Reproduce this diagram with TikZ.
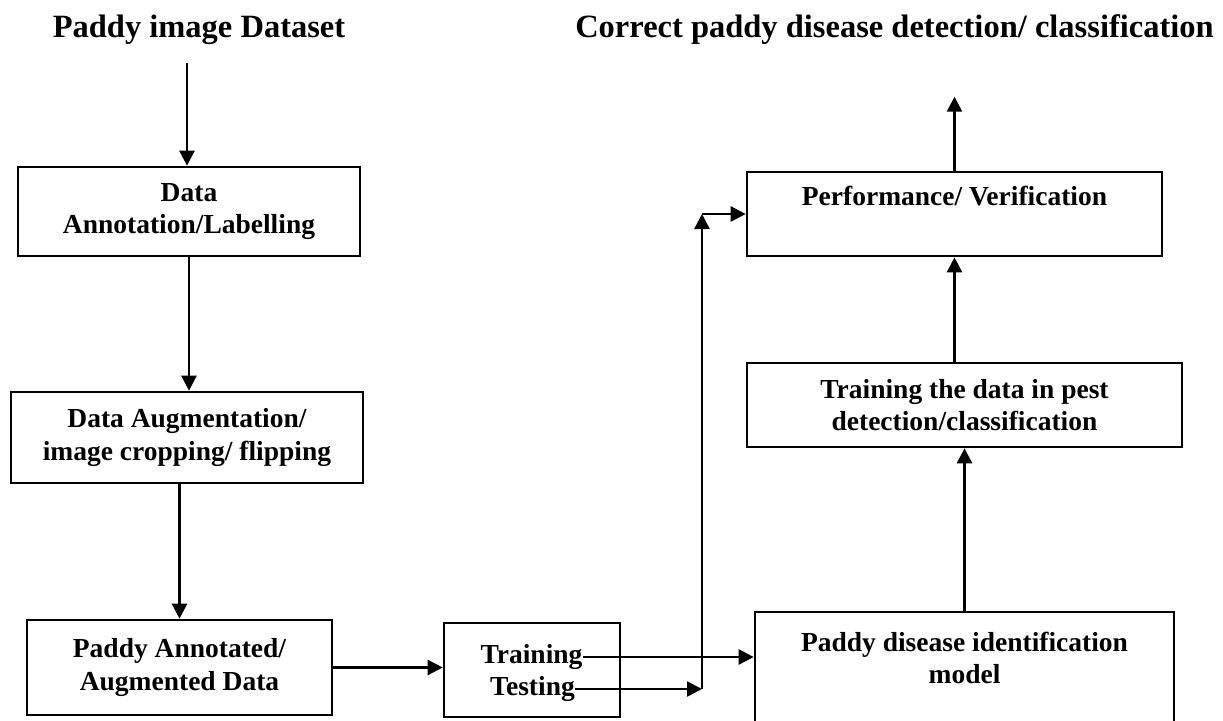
\documentclass[tikz,border=0pt]{standalone}
\usepackage{fontspec}
\setmainfont{Liberation Serif}
\usetikzlibrary{arrows.meta}
\begin{document}
\begin{tikzpicture}[x=1pt,y=-1pt,
  box/.style={draw, line width=2.6pt, inner sep=0pt, align=center, font=\fontsize{27.5}{32.5}\selectfont\bfseries},
  lbl/.style={inner sep=0pt, align=center, font=\fontsize{27.5}{32.5}\selectfont\bfseries},
  ttl/.style={inner sep=0pt, font=\fontsize{32.5}{38}\selectfont\bfseries, anchor=base},
  arr/.style={line width=2.5pt, -{Triangle[length=15pt,width=15pt]}}]
\useasboundingbox (0,0) rectangle (1223,720);
\clip (0,0) rectangle (1223,720);
\fill[white] (0,0) rectangle (1223,720);

% titles
\node[ttl] (t1) at (199,37) {Paddy image Dataset};
\node[ttl] (t2) at (894.5,37) {Correct paddy disease detection/ classification};

% left column
\node[box, minimum width=342pt, minimum height=89pt] (b1) at (189,211.5) {Data\\Annotation/Labelling};
\node[box, minimum width=352pt, minimum height=91pt] (b2) at (187,437.5) {Data Augmentation/\\image cropping/ flipping};
\node[box, minimum width=305pt, minimum height=95pt] (b3) at (179.5,667.5) {Paddy Annotated/\\Augmented Data};

% training / testing
\node[box, minimum width=176pt, minimum height=94pt] (tr) at (532,670) {};
\node[lbl] (trn) at (531.5,657) {Training};
\node[lbl] (tst) at (532.5,689) {Testing};

% right column
\node[box, minimum width=415pt, minimum height=84pt] (perf) at (954.5,214) {};
\node[lbl, anchor=base] (perft) at (954.5,205) {Performance/ Verification};
\node[box, minimum width=435pt, minimum height=84pt] (trd) at (964.5,405) {Training the data in pest\\detection/classification};
\node[box, minimum width=419pt, minimum height=123pt] (pdm) at (964.5,673.5) {};
\node[lbl] (pdmt) at (964.5,658) {Paddy disease identification\\model};

% helper coordinates
\coordinate (a0) at ([xshift=-12pt,yshift=-19pt]t1.south);
\coordinate (vx) at (702,0);
\coordinate (c1) at (tst.east -| vx);
\coordinate (c2) at (perf.west -| vx);
\coordinate (out) at ([yshift=74pt]perf.north);

% connectors
\draw[arr] (a0) -- (a0 |- b1.north);
\draw[arr] (b1.south) -- (b1.south |- b2.north);
\draw[arr] (b3.north |- b2.south) -- (b3.north);
\draw[arr] (b3.east) -- (b3.east -| tr.west);
\draw[arr] (trn.east) -- (trn.east -| pdm.west);
\draw[arr] (tst.east) -- (c1);
\draw[arr] (c1) -- (c2);
\draw[arr] (c2) -- (perf.west);
\draw[arr] (pdm.north) -- (pdm.north |- trd.south);
\draw[arr] (perf.south |- trd.north) -- (perf.south);
\draw[arr] (perf.north) -- (out);
\end{tikzpicture}
\end{document}
